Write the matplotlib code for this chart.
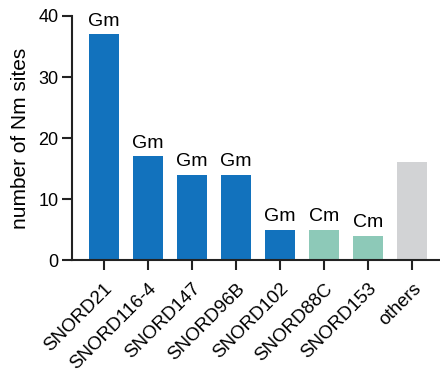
import matplotlib
matplotlib.use('Agg')
import matplotlib.pyplot as plt

plt.rcParams['font.family'] = ['Liberation Sans', 'DejaVu Sans']

guides = ['SNORD21', 'SNORD116-4', 'SNORD147', 'SNORD96B',
          'SNORD102', 'SNORD88C', 'SNORD153', 'others']
n_sites = [37, 17, 14, 14, 5, 5, 4, 16]
mod_type = ['Gm', 'Gm', 'Gm', 'Gm', 'Gm', 'Cm', 'Cm', '']

colors = {'Gm': '#1272bd', 'Cm': '#8dc9b8', '': '#d2d3d5'}


def plot_sites(fpath='out.png'):
    fig = plt.figure(figsize=(4.4, 3.72), dpi=100)
    ax = fig.add_axes([0.164, 0.301, 0.836, 0.656])
    x = range(len(guides))
    bars = ax.bar(x, n_sites, width=0.68,
                  color=[colors[m] for m in mod_type])
    for rect, m in zip(bars, mod_type):
        if m:
            ax.annotate(m, (rect.get_x() + rect.get_width() / 2, rect.get_height()),
                        xytext=(0, 3), textcoords='offset points',
                        ha='center', va='bottom', fontsize=14)

    ax.set_xlim(-0.72, 7.63)
    ax.set_ylim(0, 40)
    ax.set_yticks([0, 10, 20, 30, 40])
    ax.set_xticks(list(x))
    ax.set_xticklabels(guides, rotation=45, ha='right',
                       rotation_mode='anchor', fontsize=13.5)
    ax.set_ylabel('number of Nm sites', fontsize=15, labelpad=6)
    ax.tick_params(axis='both', width=1.5, length=7, color='#222222')
    ax.tick_params(axis='y', labelsize=13, pad=3)
    ax.tick_params(axis='x', pad=7.5)

    for side in ['top', 'right']:
        ax.spines[side].set_visible(False)
    for side in ['left', 'bottom']:
        ax.spines[side].set_linewidth(1.5)
        ax.spines[side].set_color('#222222')
    ax.spines['left'].set_bounds(0, 40)

    fig.savefig(fpath)
    plt.close(fig)


plot_sites()
